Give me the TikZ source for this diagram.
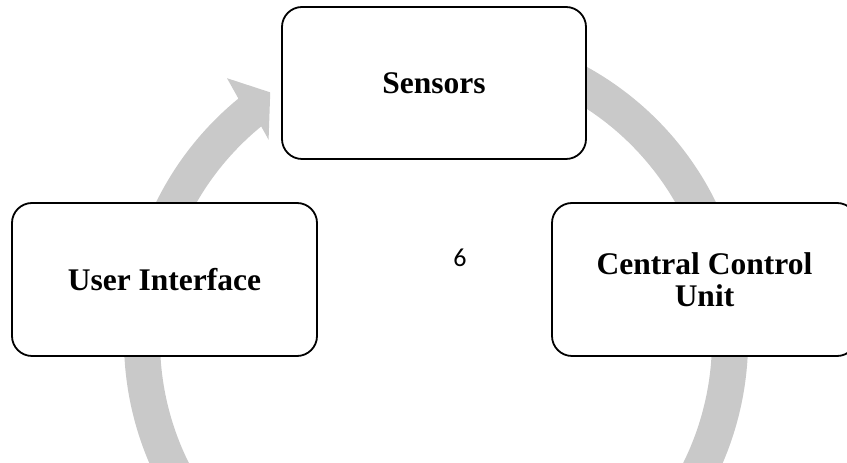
\documentclass[tikz,border=0pt]{standalone}
\usepackage{fontspec}
\setmainfont{Liberation Serif}
\newfontfamily\numfont{Carlito}
\usetikzlibrary{calc}
\definecolor{ring}{HTML}{C9C9C9}
\tikzset{box/.style={draw=black,line width=1.8pt,fill=white,rounded corners=20pt,align=center,minimum width=305pt,minimum height=153pt,inner sep=4pt,font=\bfseries\fontsize{31.5}{32}\selectfont},num/.style={font=\numfont\fontsize{26}{30}\selectfont,inner sep=1pt}}

\begin{document}
\begin{tikzpicture}[x=1pt,y=1pt]
\useasboundingbox (0,0) rectangle (847,463);
\clip (0,0) rectangle (847,463);
\coordinate (o) at (436,123);
% grey cycle arrow
\fill[ring] ($(o)+(129.3:312)$) -- ($(o)+(128.6:335)$) -- ($(o)+(123.8:298)$) -- ($(o)+(129.9:261)$) -- ($(o)+(129.3:276)$) arc[start angle=129.3,end angle=470,radius=276pt] -- ($(o)+(470:312)$) arc[start angle=470,end angle=129.3,radius=312pt] -- cycle;
\node[box,minimum width=304pt,minimum height=152pt] (s) at (434,380) {Sensors};
\node[box] (u) at (164.5,183.5) {User Interface};
\node[box] (c) at (704.5,183.5) {Central Control\\Unit};
\node[num] (n) at (460,205) {6};
\end{tikzpicture}
\end{document}
